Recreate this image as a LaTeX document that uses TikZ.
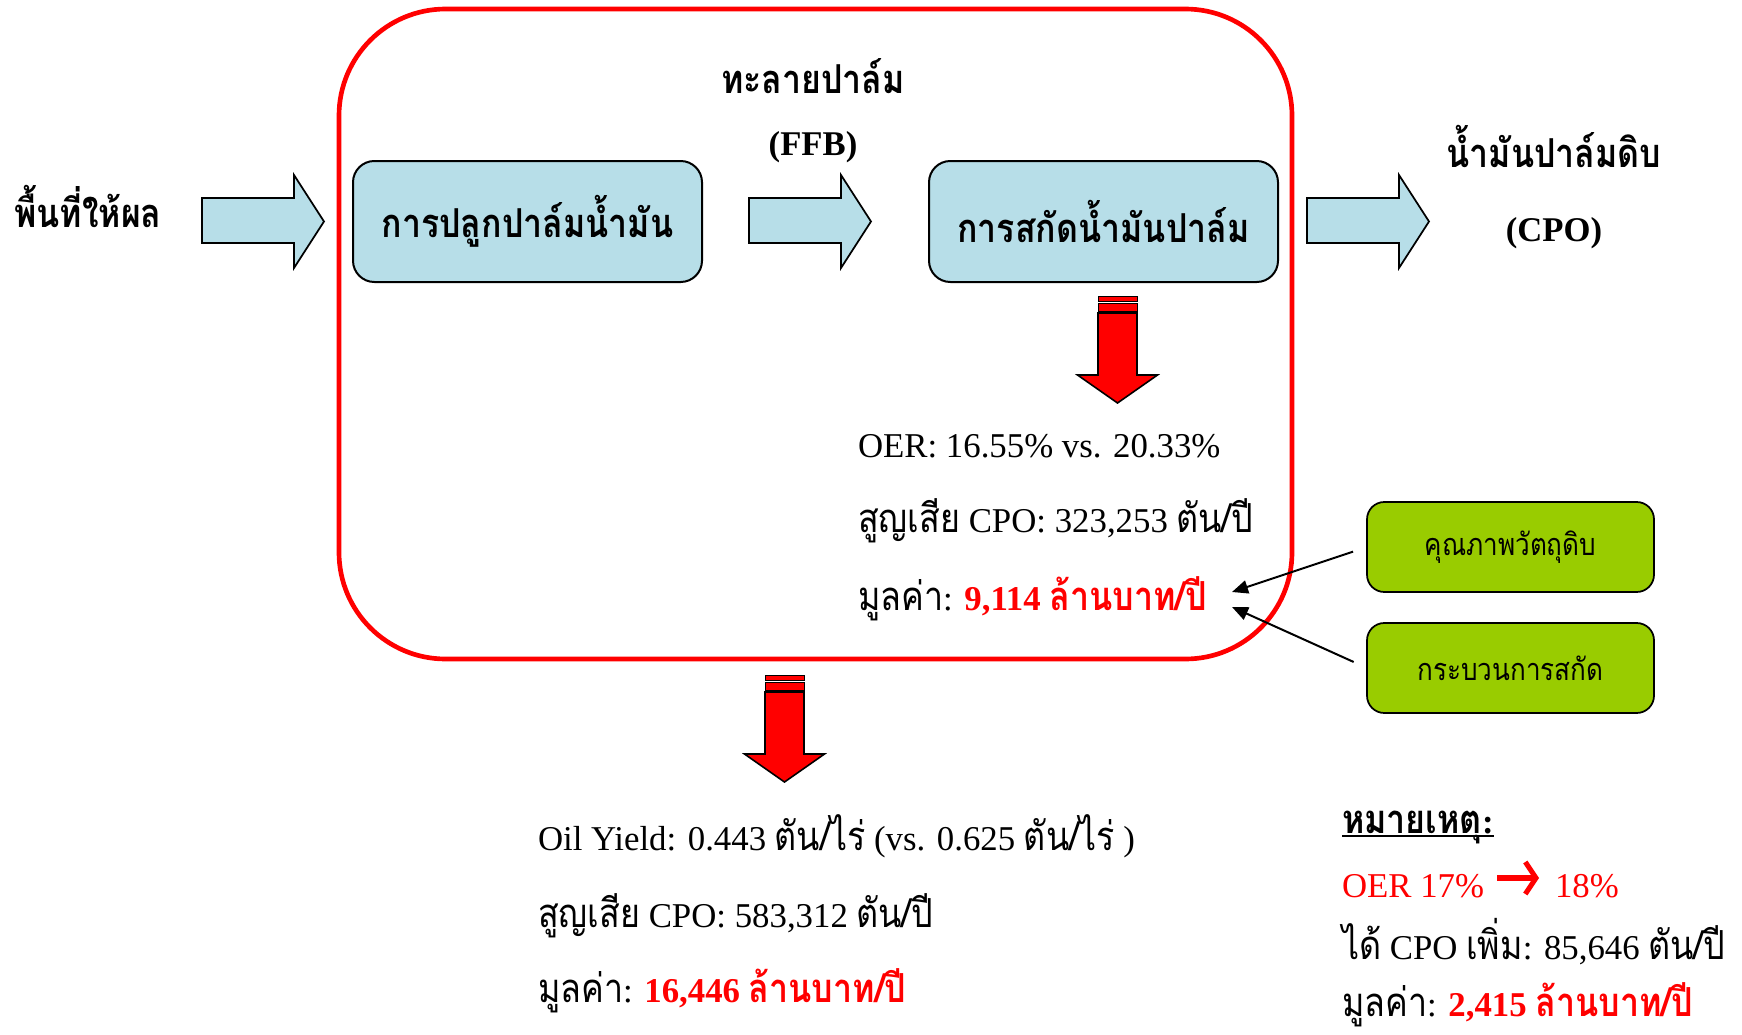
\documentclass[tikz,border=0pt]{standalone}
\usepackage{fontspec}
\setmainfont{Liberation Serif}
\newfontfamily\thaifont[Script=Thai,Scale=1.15,FakeStretch=0.85]{Loma}
\newcommand\tha[1]{{\thaifont #1}}
\usetikzlibrary{arrows.meta}
\definecolor{boxblue}{HTML}{B7DEE8}
\definecolor{boxgreen}{HTML}{99CC00}
\definecolor{hired}{HTML}{FF0000}

\begin{document}
\begin{tikzpicture}[x=0.75pt,y=-0.75pt,
  every node/.style={inner sep=0pt,outer sep=0pt},
  body/.style={font=\fontsize{26.1}{30}\selectfont,anchor=base west},
  head/.style={font=\fontsize{26}{30}\selectfont\bfseries,anchor=base},
  stepbox/.style={draw=black,line width=1.5pt,fill=boxblue,rounded corners=16pt,
    minimum width=261.75pt,minimum height=90.75pt,font=\fontsize{26}{30}\selectfont\bfseries},
  factorbox/.style={draw=black,line width=1.3pt,fill=boxgreen,rounded corners=13pt,
    minimum width=215.25pt,minimum height=67.5pt,font=\fontsize{20}{24}\selectfont},
  flowarrow/.style={draw=black,fill=boxblue,line width=1.3pt,line join=miter},
  lossarrow/.style={draw=black,fill=hired,line width=1.2pt,line join=miter},
  stripe/.style={draw=black,fill=hired,line width=0.7pt},
  cause/.style={draw=black,line width=1.5pt,-{Triangle[length=12pt,width=10pt]},shorten <=11pt},
  notearrow/.style={draw=hired,line width=3.8pt,-{Straight Barb[length=8pt,width=24pt,line width=3.8pt]}}]
\useasboundingbox (0,0) rectangle (1742,1035);

% boundary of the plantation + mill system
\draw[hired,line width=3.5pt,rounded corners=80pt] (339,9) rectangle (1292,659);

% process boxes
\node[stepbox] (plant) at (527.5,221.5) {\tha{การปลูกปาล์มน้ำมัน}};
\node[stepbox] (mill) at (1103.5,221.5) {\tha{การสกัดน้ำมันปาล์ม}};

% flow block arrows
\foreach \ax in {202,749,1307}{
  \draw[flowarrow] (\ax,198) -- ({\ax+92},198) -- ({\ax+92},175) -- ({\ax+122},221.5)
    -- ({\ax+92},268) -- ({\ax+92},243) -- (\ax,243) -- cycle;
}

% flow labels
\node[head] (area) at (88,227) {\tha{พื้นที่ให้ผล}};
\node[head] (ffbth) at (813,93) {\tha{ทะลายปาล์ม}};
\node[head] (ffb) at (813,155) {(FFB)};
\node[head] (cpoth) at (1554,167) {\tha{น้ำมันปาล์มดิบ}};
\node[head] (cpo) at (1554,241) {(CPO)};

% striped loss arrows
\foreach \cx/\ty in {1117.5/296,784.5/675}{
  \draw[stripe] ({\cx-19.5},\ty) rectangle ({\cx+19.5},{\ty+5});
  \draw[stripe] ({\cx-19.5},{\ty+7.5}) rectangle ({\cx+19.5},{\ty+15});
  \draw[lossarrow] ({\cx-19.5},{\ty+17}) -- ({\cx+19.5},{\ty+17}) -- ({\cx+19.5},{\ty+79})
    -- ({\cx+40},{\ty+79}) -- (\cx,{\ty+107}) -- ({\cx-40},{\ty+79}) -- ({\cx-19.5},{\ty+79}) -- cycle;
}

% extraction losses
\node[body] (oer) at (858,457) {OER: 16.55\% vs. 20.33\%};
\node[body] (loss1) at (858,532) {\tha{สูญเสีย} CPO: 323,253 \tha{ตัน/ปี}};
\node[body] (val1) at (858,610) {\tha{มูลค่า}: \textcolor{hired}{\bfseries 9,114 \tha{ล้านบาท/ปี}}};

% causes of low extraction rate
\node[factorbox] (raw) at (1510.5,547) {\tha{คุณภาพวัตถุดิบ}};
\node[factorbox] (proc) at (1510.5,668) {\tha{กระบวนการสกัด}};
\coordinate (c1) at (1232,592);
\coordinate (c2) at (1232,607);
\draw[cause] (raw.west) -- (c1);
\draw[cause] (proc.west) -- (c2);

% plantation losses
\node[body] (yield) at (538,850) {Oil Yield: 0.443 \tha{ตัน/ไร่} (vs. 0.625 \tha{ตัน/ไร่} )};
\node[body] (loss2) at (538,927) {\tha{สูญเสีย} CPO: 583,312 \tha{ตัน/ปี}};
\node[body] (val2) at (538,1002) {\tha{มูลค่า}: \textcolor{hired}{\bfseries 16,446 \tha{ล้านบาท/ปี}}};

% note
\node[body,font=\fontsize{26.1}{30}\selectfont\bfseries] (note) at (1342,833) {\tha{หมายเหตุ}:};
\draw[line width=1.5pt] ([yshift=-2.5pt]note.base west) -- ([yshift=-2.5pt]note.base east);
\node[body,text=hired] (oerold) at (1342,897) {OER 17\%};
\node[body,text=hired] (oernew) at (1555,897) {18\%};
\draw[notearrow] ([xshift=10pt,yshift=14.25pt]oerold.base east) -- ([xshift=-12pt,yshift=14.25pt]oernew.base west);
\node[body] (gain) at (1342,959) {\tha{ได้} CPO \tha{เพิ่ม}: 85,646 \tha{ตัน/ปี}};
\node[body] (val3) at (1342,1016) {\tha{มูลค่า}: \textcolor{hired}{\bfseries 2,415 \tha{ล้านบาท/ปี}}};
\end{tikzpicture}
\end{document}
